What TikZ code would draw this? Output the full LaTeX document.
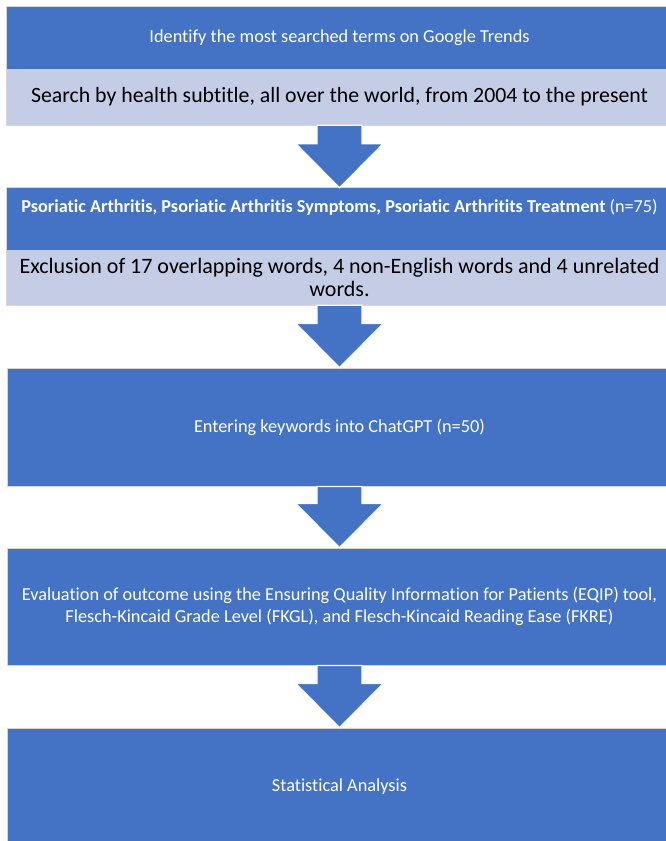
\documentclass[tikz,border=0pt]{standalone}
\usepackage{fontspec}
\setmainfont{Carlito}[Ligatures={NoCommon}]
\usetikzlibrary{calc}
\definecolor{dblue}{HTML}{4472C4}
\definecolor{lblue}{HTML}{C4CCE6}
\definecolor{edgegray}{HTML}{D6D6D6}
\newcommand\blockarr[2]{%
  \draw[blockarrow] let \p1=(#1.south), \p2=(#2.north) in
    (\x2-22.5pt,\y1) -- (\x2+22.5pt,\y1) -- (\x2+22.5pt,\y2+44pt) -- (\x2+43.5pt,\y2+44pt)
    -- (\x2,\y2) -- (\x2-43.5pt,\y2+44pt) -- (\x2-22.5pt,\y2+44pt) -- cycle;}
\begin{document}
\begin{tikzpicture}[x=1pt,y=-1pt,
  band/.style={rectangle, minimum width=665pt, inner sep=0pt, align=center},
  dark/.style={band, fill=dblue, text=white, font=\fontsize{18.3}{22}\selectfont},
  light/.style={band, fill=lblue, text=black, font=\fontsize{22}{23.5}\selectfont},
  outline/.style={draw=edgegray, line width=0.8pt},
  blockarrow/.style={fill=dblue, draw=white, line width=1.2pt, line join=miter}]
\useasboundingbox (0,0) rectangle (665,841);
\fill[white] (0,0) rectangle (665,841);
% box 1
\node[dark, minimum height=62pt] (d1) at (339.5,38) {Identify the most searched terms on Google Trends};
\node[light, minimum height=56pt, font=\fontsize{21.8}{23.5}\selectfont] (l1) at (339.5,97) {Search by health subtitle, all over the world, from 2004 to the present};
\draw[outline] (d1.north west) rectangle (l1.south east);
% box 2
\node[dark, minimum height=62pt, text depth=26pt, font=\fontsize{18.2}{22}\selectfont] (d2) at (339.5,219) {\textbf{Psoriatic Arthritis, Psoriatic Arthritis Symptoms, Psoriatic Arthritits Treatment} (n=75)};
\node[light, minimum height=55pt] (l2) at (339.5,277.5) {Exclusion of 17 overlapping words, 4 non-English words and 4 unrelated\\ words.};
\draw[outline] (d2.north west) rectangle (l2.south east);
% box 3
\node[dark, minimum height=118pt, outline] (b3) at (339.5,427) {Entering keywords into ChatGPT (n=50)};
% box 4
\node[dark, minimum height=117pt, outline] (b4) at (339.5,606.5) {Evaluation of outcome using the Ensuring Quality Information for Patients (EQIP) tool,\\ Flesch-Kincaid Grade Level (FKGL), and Flesch-Kincaid Reading Ease (FKRE)};
% box 5
\node[dark, minimum height=118pt, outline] (b5) at (339.5,787) {Statistical Analysis};
% arrows
\blockarr{l1}{d2}
\blockarr{l2}{b3}
\blockarr{b3}{b4}
\blockarr{b4}{b5}
\end{tikzpicture}
\end{document}
